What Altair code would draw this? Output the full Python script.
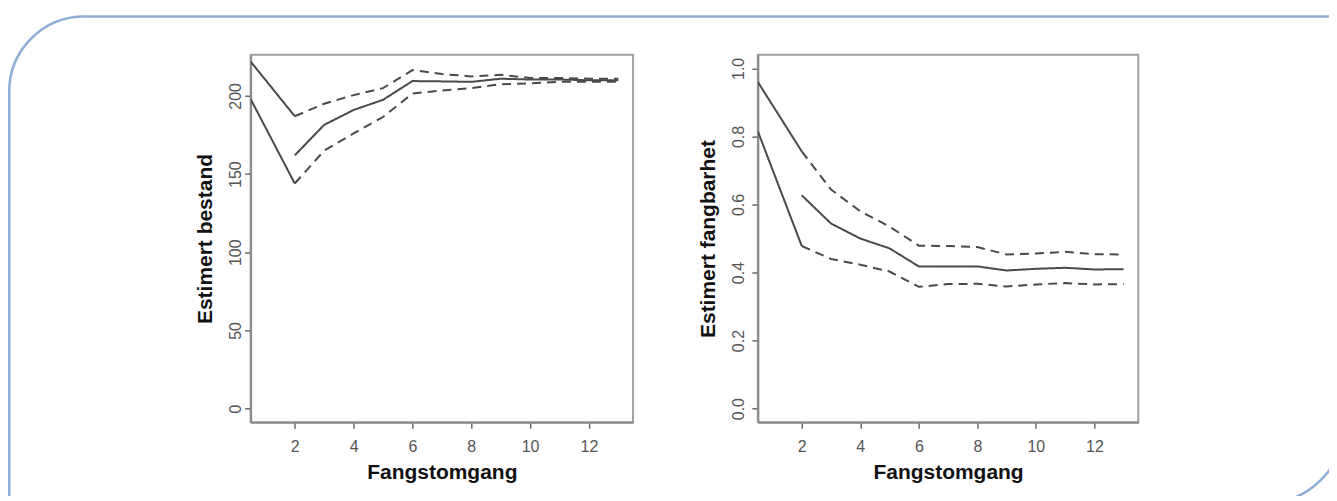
import altair as alt
import pandas as pd

# ---- data ----
x_start = [0.5, 2]
x_steps = [2, 3, 4, 5, 6, 7, 8, 9, 10, 11, 12, 13]

# Left panel: Estimert bestand
bestand_upper_start = [222, 187]
bestand_lower_start = [198, 144]
bestand_mid = [162, 181.5, 191, 197.5, 209.5, 209.3, 209, 211, 210.5, 210.5, 210, 210]
bestand_upper = [187, 195, 200.5, 205, 216.5, 214, 212.5, 213.5, 211.5, 211.5, 211, 211]
bestand_lower = [144, 165, 176, 186.5, 201.5, 203.5, 205, 207.5, 208, 209, 209, 209]

# Right panel: Estimert fangbarhet
fang_upper_start = [0.96, 0.756]
fang_lower_start = [0.815, 0.478]
fang_mid = [0.627, 0.544, 0.50, 0.471, 0.418, 0.418, 0.418, 0.406, 0.411, 0.414, 0.409, 0.410]
fang_upper = [0.756, 0.644, 0.58, 0.535, 0.479, 0.478, 0.475, 0.453, 0.456, 0.461, 0.454, 0.453]
fang_lower = [0.478, 0.44, 0.423, 0.403, 0.358, 0.366, 0.367, 0.359, 0.365, 0.369, 0.365, 0.366]

x_ticks = [2, 4, 6, 8, 10, 12]
bestand_ticks = [0, 50, 100, 150, 200]
fang_ticks = [0.0, 0.2, 0.4, 0.6, 0.8, 1.0]

x_title = "Fangstomgang"
bestand_title = "Estimert bestand"
fang_title = "Estimert fangbarhet"


def make_df(us, ls, mid, up, lo):
    rows = []
    for name, xs, ys, style in [
        ("us", x_start, us, "solid"),
        ("ls", x_start, ls, "solid"),
        ("mid", x_steps, mid, "solid"),
        ("up", x_steps, up, "dashed"),
        ("lo", x_steps, lo, "dashed"),
    ]:
        for xv, yv in zip(xs, ys):
            rows.append({"x": xv, "y": yv, "series": name, "style": style})
    return pd.DataFrame(rows)


FONT = "Liberation Sans"
LINE = "#4a4a4a"


def panel(df, ydom, yticks, ytitle, fmt, width, label_pad, title_x, frame=False):
    lines = alt.Chart(df).mark_line(color=LINE, strokeWidth=2, clip=True).encode(
        x=alt.X("x:Q",
                scale=alt.Scale(domain=[0.5, 13.5], nice=False, zero=False),
                axis=alt.Axis(values=x_ticks, title=x_title, format="d",
                              labelPadding=10, titleX=width / 2, titleY=56,
                              titleBaseline="alphabetic", titleAlign="center")),
        y=alt.Y("y:Q",
                scale=alt.Scale(domain=ydom, nice=False, zero=False),
                axis=alt.Axis(values=yticks, title=ytitle, format=fmt,
                              labelAngle=270, labelAlign="center",
                              labelBaseline="alphabetic", labelPadding=label_pad,
                              titleAngle=270, titleX=title_x, titleY=184,
                              titleAlign="center", titleBaseline="alphabetic")),
        detail="series:N",
        strokeDash=alt.StrokeDash("style:N",
                                  scale=alt.Scale(domain=["solid", "dashed"],
                                                  range=[[1, 0], [9, 6]]),
                                  legend=None),
    )
    layers = [lines]
    if frame:
        fr = alt.Chart(pd.DataFrame({"k": [0]})).mark_rect(
            fillOpacity=0, stroke="#8eaed6", strokeWidth=2.5,
            cornerRadiusTopLeft=75, cornerRadiusBottomRight=76, clip=False,
        ).encode(
            x=alt.value(-241.75), x2=alt.value(1094),
            y=alt.value(-38.3), y2=alt.value(448.3),
        )
        layers = [fr, lines]
    return alt.layer(*layers).properties(width=width, height=368)


left = panel(make_df(bestand_upper_start, bestand_lower_start, bestand_mid,
                     bestand_upper, bestand_lower),
             [-8.7, 226.3], bestand_ticks, bestand_title, "d", 383, 4, -39, frame=True)
right = panel(make_df(fang_upper_start, fang_lower_start, fang_mid,
                      fang_upper, fang_lower),
              [-0.04, 1.04], fang_ticks, fang_title, ".1f", 381, 8, -43)

chart = alt.hconcat(left, right, spacing=125, bounds="flush").properties(
    padding={"left": -1, "top": 5.5, "right": -17, "bottom": -10},
    background="white",
).configure_view(
    stroke="#a0a0a0", strokeWidth=2
).configure_axis(
    domain=True, domainColor="#8a8a8a", domainWidth=2,
    ticks=True, tickSize=6, tickColor="#6a6a6a", tickWidth=1.5,
    grid=False,
    labelFont=FONT, labelFontSize=16, labelColor="#555555",
    titleFont=FONT, titleFontSize=21, titleFontWeight="bold", titleColor="#111111",
)

chart.save("out.html", embed_options={"renderer": "svg", "actions": False})
